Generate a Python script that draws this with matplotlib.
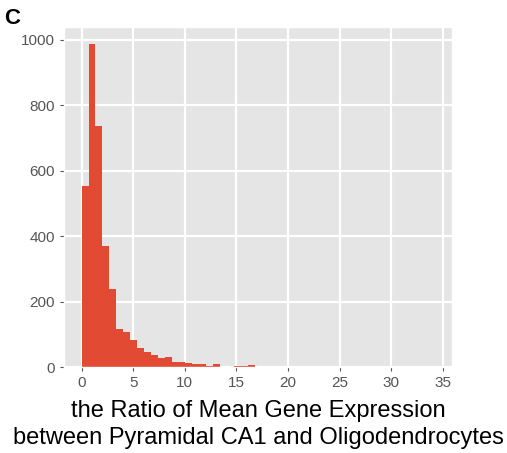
import matplotlib.pyplot as plt
import numpy as np

# histogram counts, bins of width 0.67 starting at 0
bin_width = 0.67
counts = [
    554, 988, 737, 369, 238, 118, 109, 82, 59, 47,
    38, 29, 31, 17, 17, 14, 11, 11, 5, 11,
    2, 2, 4, 4, 8, 2, 2, 2, 1, 2,
    2, 2, 2, 2, 1, 2, 2, 1, 1, 1,
    1, 2, 1, 1, 1, 2, 1, 1, 1, 1,
    2,
]
x_ticks = [0, 5, 10, 15, 20, 25, 30, 35]
y_ticks = [0, 200, 400, 600, 800, 1000]
x_label = "the Ratio of Mean Gene Expression\nbetween Pyramidal CA1 and Oligodendrocytes"
panel_label = "C"


def main():
    plt.style.use("ggplot")
    plt.rcParams["font.family"] = ["Liberation Sans", "DejaVu Sans"]
    plt.rcParams["grid.linewidth"] = 1.6

    fig = plt.figure(figsize=(5.07, 4.53), dpi=100)
    ax = fig.add_axes([0.1262, 0.1892, 0.7653, 0.7505])

    edges = np.arange(len(counts)) * bin_width
    ax.bar(edges, counts, width=bin_width, align="edge", color="#E24A33", linewidth=0)

    ax.set_xticks(x_ticks)
    ax.set_yticks(y_ticks)
    ax.grid(which="minor", visible=False)
    ax.tick_params(labelsize=11, colors="#555555", length=3)
    ax.set_xlabel(x_label, fontsize=17, color="black", labelpad=7, linespacing=1.32)

    fig.text(0.008, 0.982, panel_label, fontsize=16, fontweight="bold", va="top", ha="left")

    fig.savefig("out.png", dpi=100)
    plt.close(fig)


if __name__ == "__main__":
    main()
